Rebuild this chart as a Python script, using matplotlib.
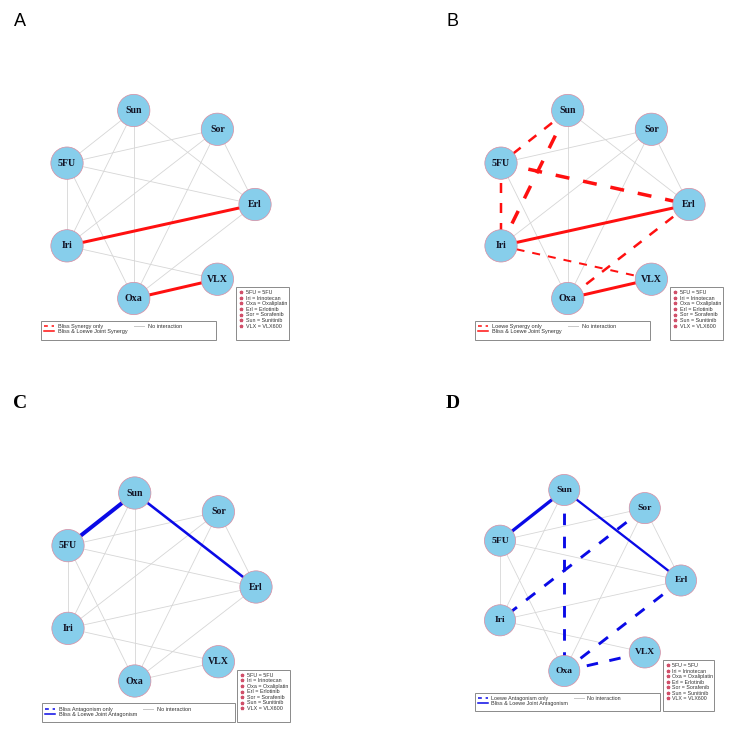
import matplotlib
matplotlib.use("Agg")
import matplotlib.pyplot as plt
from matplotlib.patches import Circle, Rectangle
from matplotlib.lines import Line2D

# drugs and network layout (igraph-style coordinates, -1..1)
drugs = ["Sun", "Sor", "5FU", "Erl", "Iri", "VLX", "Oxa"]
layout_x = [-0.29, 0.60, -1.0, 1.0, -1.0, 0.60, -0.29]
layout_y = [1.0, 0.80, 0.44, 0.0, -0.44, -0.795, -1.0]
legend_names = ["5FU = 5FU", "Iri = Irinotecan", "Oxa = Oxaliplatin", "Erl = Erlotinib",
                "Sor = Sorafenib", "Sun = Sunitinib", "VLX = VLX600"]

# tested combinations
edge_from = ["Sun", "Sun", "Sun", "Sun", "Sor", "Sor", "Sor", "Sor", "5FU", "5FU", "5FU",
             "Iri", "Iri", "Erl", "Oxa"]
edge_to = ["5FU", "Iri", "Oxa", "Erl", "5FU", "Iri", "Oxa", "Erl", "Erl", "Iri", "Oxa",
           "Erl", "VLX", "Oxa", "VLX"]

# 0 = no interaction, 1 = single model only, 2 = Bliss & Loewe joint
class_a = [0, 0, 0, 0, 0, 0, 0, 0, 0, 0, 0, 2, 0, 0, 2]
class_b = [1, 1, 0, 0, 0, 0, 0, 0, 1, 1, 0, 2, 1, 1, 2]
class_c = [2, 0, 0, 2, 0, 0, 0, 0, 0, 0, 0, 0, 0, 0, 0]
class_d = [2, 0, 1, 2, 0, 1, 0, 0, 0, 0, 0, 0, 0, 1, 1]

# edge weights (strength of interaction)
weight_a = [1, 1, 1, 1, 1, 1, 1, 1, 1, 1, 1, 3, 1, 1, 3]
weight_b = [2.5, 3.5, 1, 1, 1, 1, 1, 1, 3.5, 2.5, 1, 3, 2, 2.5, 3]
weight_c = [4, 1, 1, 2.6, 1, 1, 1, 1, 1, 1, 1, 1, 1, 1, 1]
weight_d = [3.4, 1, 3, 2.4, 1, 3, 1, 1, 1, 1, 1, 1, 1, 3, 3]

only_labels = ["Bliss Synergy only", "Loewe Synergy only",
               "Bliss Antagonism only", "Loewe Antagonism only"]
joint_labels = ["Bliss & Loewe Joint Synergy", "Bliss & Loewe Joint Synergy",
                "Bliss & Loewe Joint Antagonism", "Bliss & Loewe Joint Antagonism"]

W = 736
fig = plt.figure(figsize=(7.36, 7.36), dpi=100)

panels = [
    dict(tag="A", cls=class_a, wt=weight_a, col="#FF1010", c=(161, 204.5), s=94, leg_w=1.862,
         tagpos=(20, 21), tagfont="Liberation Sans", tagweight="normal"),
    dict(tag="B", cls=class_b, wt=weight_b, col="#FF1010", c=(595, 204.5), s=94, leg_w=1.862,
         tagpos=(453, 21), tagfont="Liberation Sans", tagweight="normal"),
    dict(tag="C", cls=class_c, wt=weight_c, col="#0A0AE6", c=(162, 587), s=94, leg_w=2.05,
         tagpos=(20, 403), tagfont="Liberation Serif", tagweight="bold"),
    dict(tag="D", cls=class_d, wt=weight_d, col="#0A0AE6", c=(590.5, 580.5), s=90.5, leg_w=2.05,
         tagpos=(453, 403), tagfont="Liberation Serif", tagweight="bold"),
]

L = 1.55
for i, p in enumerate(panels):
    cx, cy = p["c"]
    s = p["s"]
    k = s / 94.0
    ax = fig.add_axes([(cx - L * s) / W, (W - (cy + L * s)) / W, 2 * L * s / W, 2 * L * s / W])
    ax.set_xlim(-L, L)
    ax.set_ylim(-L, L)
    ax.axis("off")

    pos = {d: (x, y) for d, x, y in zip(drugs, layout_x, layout_y)}
    for a, b, c, w in zip(edge_from, edge_to, p["cls"], p["wt"]):
        xs = [pos[a][0], pos[b][0]]
        ys = [pos[a][1], pos[b][1]]
        if c == 0:
            ax.plot(xs, ys, color="#D6D6D6", lw=0.6 * k, zorder=1, solid_capstyle="butt")
        elif c == 1:
            ax.plot(xs, ys, color=p["col"], lw=w * 0.72 * k, zorder=2,
                    dashes=(4, 4), dash_capstyle="butt")
        else:
            ax.plot(xs, ys, color=p["col"], lw=w * 0.72 * k, zorder=2, solid_capstyle="butt")

    for d in drugs:
        ax.add_patch(Circle(pos[d], 0.172, facecolor="#87CEEB", edgecolor="#D98BA0",
                            lw=0.5, zorder=3))
        ax.text(pos[d][0], pos[d][1], d, ha="center", va="center", fontsize=7.1 * k,
                family="Liberation Serif", weight="bold", color="#111122", zorder=4)

    # interaction legend
    top1 = -1.239
    ax.add_patch(Rectangle((-1.277, -1.441), p["leg_w"], 0.202, fill=False,
                           edgecolor="#8A8A8A", lw=0.7, zorder=5))
    h = [Line2D([], [], color=p["col"], lw=1.1, dashes=(2.5, 2.5)),
         Line2D([], [], color=p["col"], lw=1.1),
         Line2D([], [], color="#C8C8C8", lw=0.7)]
    lg1 = ax.legend(h, [only_labels[i], joint_labels[i], "No interaction"], ncol=2,
                    loc="upper left", bbox_to_anchor=(-1.277, top1), bbox_transform=ax.transData,
                    frameon=False, borderaxespad=0, borderpad=0.55,
                    labelspacing=0.05, handlelength=1.8, handletextpad=0.7, columnspacing=1.1,
                    prop={"family": "Liberation Sans", "size": 4.0 * k})
    for t in lg1.get_texts():
        t.set_color("#333333")
    ax.add_artist(lg1)

    # drug name legend
    star = Line2D([], [], ls="none", marker="*", ms=2.4, color="#D0506A")
    ax.add_patch(Rectangle((0.80, -1.441), 0.565, 0.563, fill=False,
                           edgecolor="#8A8A8A", lw=0.7, zorder=5))
    lg2 = ax.legend([star] * len(legend_names), legend_names, loc="upper left",
                    bbox_to_anchor=(0.80, -0.878), bbox_transform=ax.transData,
                    frameon=False, borderaxespad=0, borderpad=0.6, labelspacing=0.1,
                    handlelength=0.6, handletextpad=0.6,
                    prop={"family": "Liberation Sans", "size": 3.9 * k})
    for t in lg2.get_texts():
        t.set_color("#333333")

    fig.text(p["tagpos"][0] / W, 1 - p["tagpos"][1] / W, p["tag"], ha="center", va="center",
             fontsize=13 if p["tagweight"] == "normal" else 14, family=p["tagfont"],
             weight=p["tagweight"])

fig.savefig("out.png", dpi=100, facecolor="white")
